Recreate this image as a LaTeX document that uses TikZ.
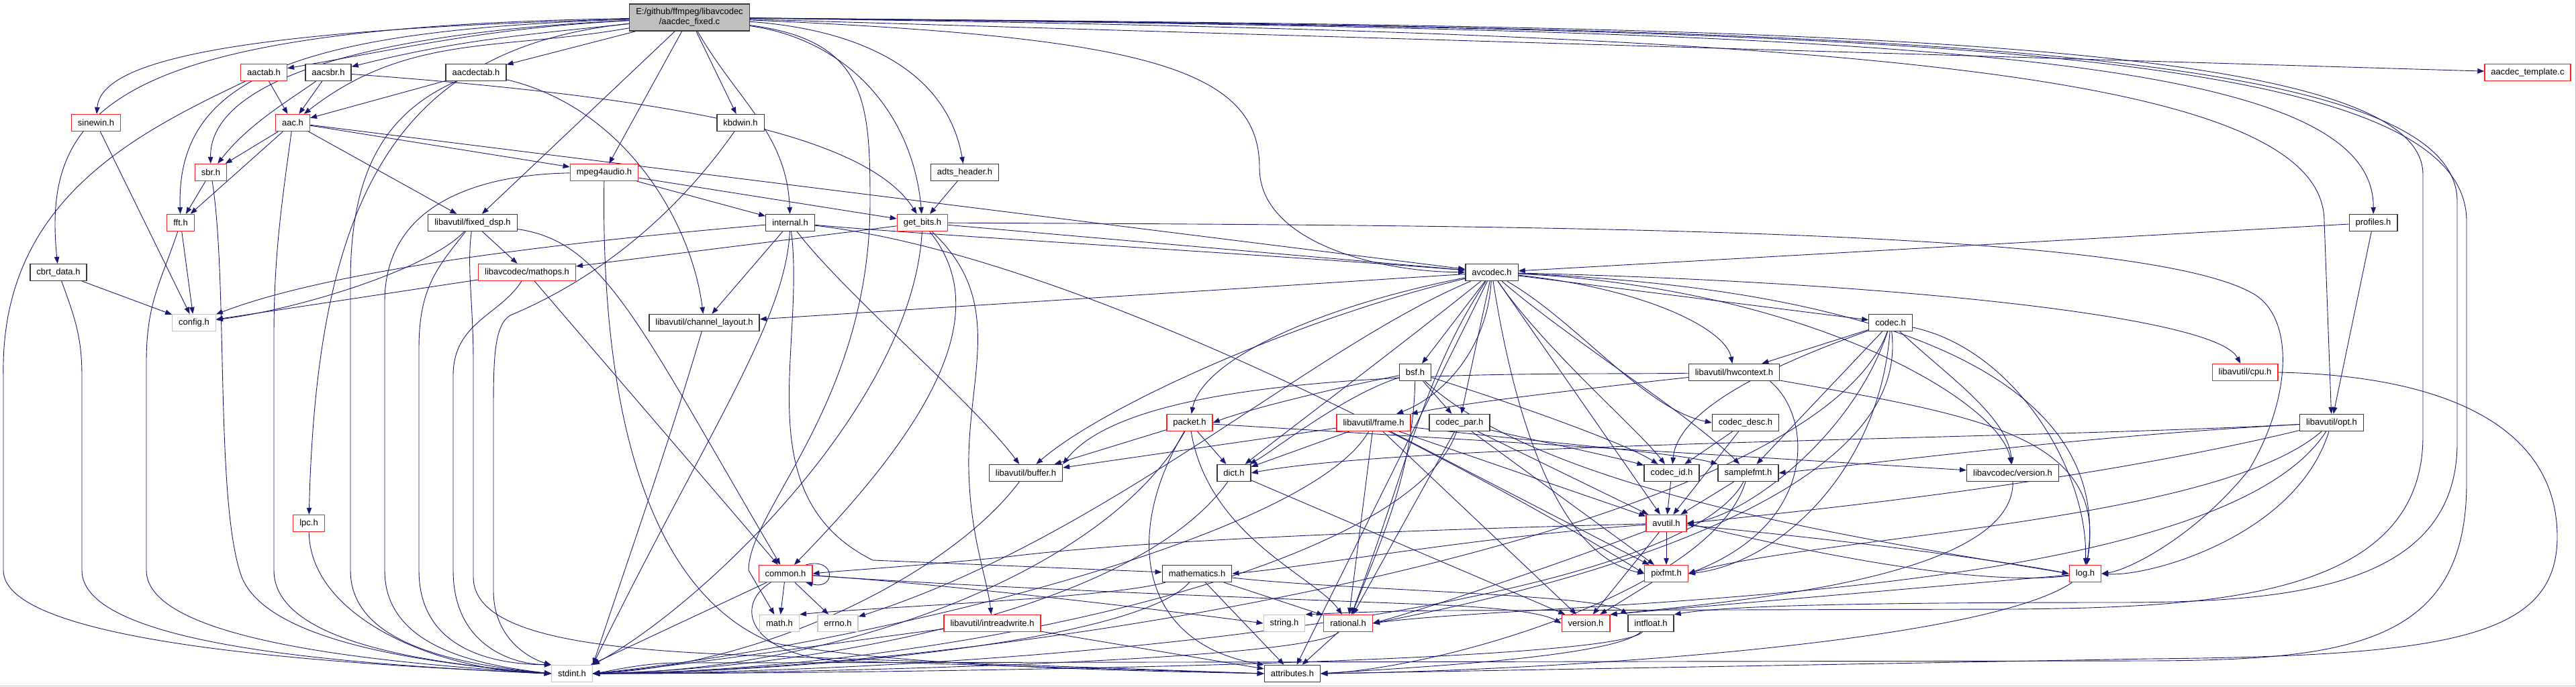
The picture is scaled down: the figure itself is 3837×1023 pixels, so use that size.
\documentclass[tikz,border=0pt]{standalone}
\usepackage{fontspec}
\setmainfont{Liberation Sans}
\usetikzlibrary{arrows.meta}
\pgfdeclarelayer{bg}
\pgfsetlayers{bg,main}
\definecolor{edgec}{HTML}{191970}
\definecolor{redb}{HTML}{FF2020}
\definecolor{grayb}{HTML}{C4C4C4}
\definecolor{blackb}{HTML}{383838}
\definecolor{rootf}{HTML}{BFBFBF}
\begin{document}
\begin{tikzpicture}[x=1pt,y=-1pt,
  nd/.style={draw=blackb, fill=white, line width=1.3pt, minimum height=25pt, inner xsep=9.5pt, inner ysep=0pt, font=\fontsize{13}{15}\selectfont},
  rd/.style={nd, draw=redb},
  gd/.style={nd, draw=grayb},
  e/.style={draw=edgec, line width=0.9pt, -{Triangle[length=10pt,width=7.5pt]}},
]
\useasboundingbox (0,0) rectangle (3837,1023);
\draw[grayb, line width=1pt] (0,1022) -- (3836,1022) -- (3836,0);

% ---------------- nodes ----------------
\node[nd, fill=rootf, align=center, minimum height=40pt] (R) at (1027,26) {E:/github/ffmpeg/libavcodec\\/aacdec\_fixed.c};
\node[rd] (aactab) at (393,108) {aactab.h};
\node[nd] (aacsbr) at (489,108) {aacsbr.h};
\node[nd] (aacdectab) at (709,108) {aacdectab.h};
\node[rd] (tmpl) at (3765,108) {aacdec\_template.c};
\node[rd] (sinewin) at (143,183) {sinewin.h};
\node[rd] (aac) at (436,183) {aac.h};
\node[nd] (kbdwin) at (1103,183) {kbdwin.h};
\node[rd] (sbr) at (314,257) {sbr.h};
\node[rd] (mpa) at (900,257) {mpeg4audio.h};
\node[nd] (adts) at (1437,257) {adts\_header.h};
\node[rd] (fft) at (269,332) {fft.h};
\node[nd] (fdsp) at (704,332) {libavutil/fixed\_dsp.h};
\node[nd] (intl) at (1177,332) {internal.h};
\node[rd] (getbits) at (1374,332) {get\_bits.h};
\node[nd] (profiles) at (3535,332) {profiles.h};
\node[nd] (cbrt) at (87,406) {cbrt\_data.h};
\node[rd] (mathops) at (785,406) {libavcodec/mathops.h};
\node[nd] (avcodec) at (2222,406) {avcodec.h};
\node[gd] (config) at (289,481) {config.h};
\node[nd] (chl) at (1049,481) {libavutil/channel\_layout.h};
\node[nd] (codec) at (2816,481) {codec.h};
\node[nd] (bsf) at (2108,555) {bsf.h};
\node[nd] (hwctx) at (2583,555) {libavutil/hwcontext.h};
\node[rd] (cpu) at (3344,555) {libavutil/cpu.h};
\node[rd] (packet) at (1772,630) {packet.h};
\node[rd] (frame) at (2046,630) {libavutil/frame.h};
\node[nd] (cpar) at (2174,630) {codec\_par.h};
\node[nd] (cdesc) at (2600,630) {codec\_desc.h};
\node[nd] (opt) at (3473,630) {libavutil/opt.h};
\node[nd] (buffer) at (1528,705) {libavutil/buffer.h};
\node[nd] (dict) at (1838,705) {dict.h};
\node[nd] (cid) at (2490,705) {codec\_id.h};
\node[nd] (sfmt) at (2604,705) {samplefmt.h};
\node[nd] (lavcver) at (2998,705) {libavcodec/version.h};
\node[rd] (lpc) at (460,780) {lpc.h};
\node[rd] (avutil) at (2482,780) {avutil.h};
\node[rd] (common) at (1170,855) {common.h};
\node[nd] (mathem) at (1783,855) {mathematics.h};
\node[rd] (pixfmt) at (2482,855) {pixfmt.h};
\node[rd] (logh) at (3106,855) {log.h};
\node[gd] (mathh) at (1161,929) {math.h};
\node[gd] (errno) at (1248,929) {errno.h};
\node[rd] (irw) at (1478,929) {libavutil/intreadwrite.h};
\node[gd] (stringh) at (1913,929) {string.h};
\node[rd] (rational) at (2008,929) {rational.h};
\node[rd] (version) at (2362,929) {version.h};
\node[nd] (intfloat) at (2459,929) {intfloat.h};
\node[gd] (stdint) at (852,1004) {stdint.h};
\node[nd] (attr) at (1925,1004) {attributes.h};

\begin{pgfonlayer}{bg}
% ---------------- root ----------------
\draw[e] (R) to[out=183,in=10] (aactab);
\draw[e] (R) to[out=186,in=14] (aacsbr);
\draw[e] (R) -- (aacdectab);
\draw[e] (R) .. controls (320,45) and (150,95) .. (sinewin);
\draw[e] (R) .. controls (170,40) and (62,160) .. (cbrt);
\draw[e] (R) .. controls (440,45) and (262,115) .. (fft);
\draw[e] (R) .. controls (490,52) and (312,135) .. (sbr);
\draw[e] (R) to[out=190,in=38] (aac);
\draw[e] (R) .. controls (600,70) and (472,280) .. (lpc);
\draw[e] (R) -- (kbdwin);
\draw[e] (R) -- (mpa);
\draw[e] (R) -- (fdsp);
\draw[e] (R) to[out=-60,in=92] (intl);
\draw[e] (R) to[out=-8,in=95] (getbits);
\draw[e] (R) to[out=-4,in=100] (adts);
\draw[e] (R) .. controls (1290,60) and (1296,150) .. (1296,300) .. controls (1296,600) and (1115,760) .. (1115,850) -- (mathh);
\draw[e] (R) .. controls (1700,55) and (1876,100) .. (1876,250) .. controls (1876,360) and (2050,405) .. (avcodec);
\draw[e] (R) -- (tmpl);
\draw[e] (R) .. controls (2800,45) and (3537,70) .. (profiles);
\draw[e] (R) .. controls (2700,48) and (3462,100) .. (3462,330) -- (opt);
\draw[e] (R) .. controls (2600,40) and (3609,45) .. (3609,260) -- (3609,650) .. controls (3609,890) and (3300,905) .. (3000,908) -- (2150,910) .. controls (2050,911) and (1990,914) .. (stringh.north east);
\draw[e] (R) .. controls (2650,42) and (3660,50) .. (3660,300) -- (3660,660) .. controls (3660,880) and (3400,898) .. (3150,898) .. controls (2700,898) and (2560,905) .. (intfloat.north east);
\draw[e] (R) .. controls (2750,44) and (3674,55) .. (3674,330) -- (3674,720) .. controls (3674,960) and (3500,984) .. (3200,985) -- (1000,988) .. controls (950,990) and (910,1000) .. (stdint.east);

% ---------------- upper left ----------------
\draw[e] (aactab) -- (aac);
\draw[e] (aactab) .. controls (200,200) and (0,300) .. (5,560) -- (5,850) .. controls (5,960) and (500,990) .. (stdint.west);
\draw[e] (aacsbr) -- (aac);
\draw[e] (aacsbr) .. controls (430,150) and (370,185) .. (sbr);
\draw[e] (aacsbr) .. controls (1000,145) and (1290,200) .. (getbits);
\draw[e] (aacdectab) -- (aac);
\draw[e] (aacdectab) .. controls (930,160) and (1030,330) .. (chl);
\draw[e] (aacdectab) .. controls (570,170) and (522,260) .. (522,420) -- (522,850) .. controls (522,960) and (680,990) .. (stdint.west);
\draw[e] (sinewin) -- (config);
\draw[e] (aac) -- (sbr);
\draw[e] (aac) -- (fft);
\draw[e] (aac) -- (mpa);
\draw[e] (aac) -- (avcodec);
\draw[e] (aac) -- (fdsp);
\draw[e] (aac) .. controls (420,300) and (408,380) .. (408,500) -- (408,850) .. controls (408,960) and (650,990) .. (stdint.west);
\draw[e] (kbdwin) .. controls (1000,330) and (880,420) .. (760,470) .. controls (735,485) and (735,540) .. (735,620) -- (735,880) .. controls (735,960) and (800,985) .. (stdint.north west);
\draw[e] (sbr) -- (fft);
\draw[e] (sbr) .. controls (340,420) and (320,750) .. (360,860) .. controls (400,960) and (650,990) .. (stdint.west);
\draw[e] (mpa) -- (intl);
\draw[e] (mpa) -- (getbits);
\draw[e] (mpa) .. controls (720,260) and (573,300) .. (573,450) -- (573,850) .. controls (573,960) and (700,990) .. (stdint.west);
\draw[e] (mpa) .. controls (895,600) and (960,880) .. (1150,958) .. controls (1350,995) and (1700,1000) .. (attr.west);
\draw[e] (adts) -- (getbits);
\draw[e] (fft) -- (config);
\draw[e] (fft) .. controls (240,420) and (218,450) .. (218,540) -- (218,850) .. controls (218,960) and (600,990) .. (stdint.west);
\draw[e] (fdsp) -- (mathops);
\draw[e] (fdsp) .. controls (640,400) and (450,460) .. (config);
\draw[e] (fdsp) .. controls (650,400) and (624,430) .. (624,520) -- (624,850) .. controls (624,960) and (720,990) .. (stdint.north west);
\draw[e] (fdsp) .. controls (695,400) and (705,450) .. (705,540) -- (705,860) .. controls (705,950) and (900,970) .. (1150,978) -- (attr.west);
\draw[e] (fdsp) .. controls (900,360) and (950,480) .. (common);
\draw[e] (cbrt) -- (config);
\draw[e] (cbrt) .. controls (110,470) and (122,500) .. (122,560) -- (122,850) .. controls (122,960) and (500,990) .. (stdint.west);
\draw[e] (mathops) -- (config);
\draw[e] (mathops) -- (common);
\draw[e] (mathops) .. controls (745,470) and (675,480) .. (675,560) -- (675,850) .. controls (675,960) and (760,990) .. (stdint.north west);
\draw[e] (lpc) .. controls (462,920) and (650,1000) .. (stdint.west);
\draw[e] (chl) .. controls (1000,650) and (930,850) .. (stdint.north east);

% ---------------- internal / get_bits ----------------
\draw[e] (intl) .. controls (850,360) and (500,400) .. (config);
\draw[e] (intl) -- (chl);
\draw[e] (intl) .. controls (1400,352) and (1900,380) .. (avcodec);
\draw[e] (intl) .. controls (1170,480) and (1050,650) .. (stdint.north east);
\draw[e] (intl) .. controls (1200,520) and (1110,740) .. (1300,835) -- (mathem);
\draw[e] (intl) .. controls (1260,440) and (1450,600) .. (buffer);
\draw[e] (intl) .. controls (1600,380) and (2200,700) .. (pixfmt.west);
\draw[e] (getbits) -- (mathops);
\draw[e] (getbits) -- (avcodec);
\draw[e] (getbits) .. controls (2300,336) and (3200,340) .. (3360,440) .. controls (3420,480) and (3410,600) .. (3350,700) .. controls (3270,800) and (3170,850) .. (logh.east);
\draw[e] (getbits) .. controls (1360,600) and (1050,900) .. (stdint.north east);
\draw[e] (getbits) .. controls (1470,450) and (1420,600) .. (common);
\draw[e] (getbits) .. controls (1500,450) and (1440,560) .. (1443,700) .. controls (1445,800) and (1470,860) .. (irw);
\draw[e] (profiles) -- (opt);
\draw[e] (profiles) -- (avcodec);

% ---------------- avcodec.h ----------------
\draw[e] (avcodec) .. controls (1950,520) and (1650,800) .. (errno);
\draw[e] (avcodec) .. controls (2330,500) and (2520,620) .. (sfmt);
\draw[e] (avcodec) -- (attr);
\draw[e] (avcodec) -- (avutil);
\draw[e] (avcodec) .. controls (1950,470) and (1650,600) .. (buffer);
\draw[e] (avcodec) .. controls (2800,420) and (3300,470) .. (cpu);
\draw[e] (avcodec) -- (chl);
\draw[e] (avcodec) .. controls (2080,520) and (1920,640) .. (dict);
\draw[e] (avcodec) .. controls (2215,520) and (2150,590) .. (frame);
\draw[e] (avcodec) .. controls (2450,430) and (2570,490) .. (hwctx);
\draw[e] (avcodec) .. controls (2800,430) and (3150,560) .. (logh);
\draw[e] (avcodec) .. controls (2260,650) and (2330,830) .. (pixfmt.west);
\draw[e] (avcodec) .. controls (2120,560) and (2095,700) .. (rational);
\draw[e] (avcodec) -- (bsf);
\draw[e] (avcodec) -- (codec);
\draw[e] (avcodec) .. controls (2350,480) and (2450,610) .. (cdesc.west);
\draw[e] (avcodec) -- (cpar);
\draw[e] (avcodec) .. controls (2300,520) and (2440,640) .. (cid);
\draw[e] (avcodec) .. controls (1950,460) and (1790,540) .. (packet);
\draw[e] (avcodec) .. controls (2700,430) and (2980,600) .. (lavcver);

% ---------------- codec.h, bsf.h, hwcontext.h, cpu.h ----------------
\draw[e] (codec) .. controls (2700,800) and (1500,1000) .. (stdint.east);
\draw[e] (codec) .. controls (2760,650) and (2600,770) .. (avutil.east);
\draw[e] (codec) -- (hwctx);
\draw[e] (codec) .. controls (3000,520) and (3110,700) .. (logh);
\draw[e] (codec) .. controls (2800,700) and (2650,840) .. (pixfmt.east);
\draw[e] (codec) .. controls (2850,750) and (2300,880) .. (rational.east);
\draw[e] (codec) -- (sfmt);
\draw[e] (codec) .. controls (2680,530) and (2500,600) .. (cid);
\draw[e] (codec) .. controls (2900,560) and (2990,620) .. (lavcver);
\draw[e] (bsf) .. controls (2000,590) and (1900,670) .. (dict);
\draw[e] (bsf) .. controls (2300,730) and (2750,800) .. (logh.west);
\draw[e] (bsf) .. controls (2105,700) and (2060,800) .. (rational);
\draw[e] (bsf) .. controls (2250,600) and (2420,660) .. (cid);
\draw[e] (bsf) -- (cpar);
\draw[e] (bsf) .. controls (1980,580) and (1860,610) .. (packet.east);
\draw[e] (hwctx) .. controls (2300,560) and (1700,540) .. (buffer.north east);
\draw[e] (hwctx) .. controls (2400,575) and (2180,600) .. (frame.north east);
\draw[e] (hwctx) .. controls (2950,620) and (3140,650) .. (logh);
\draw[e] ([xshift=-15pt]hwctx.south east) .. controls (2700,620) and (2710,780) .. (pixfmt.east);
\draw[e] (cpu.east) .. controls (3650,560) and (3809,640) .. (3809,800) .. controls (3809,950) and (3650,978) .. (3200,982) -- (attr.east);

% ---------------- packet, frame, codec_par, codec_desc, opt ----------------
\draw[e] (packet) .. controls (1650,850) and (1250,1000) .. (stdint.east);
\draw[e] (packet) .. controls (1670,800) and (1700,960) .. (attr.north west);
\draw[e] (packet) -- (buffer);
\draw[e] (packet) -- (dict);
\draw[e] (packet) .. controls (1800,800) and (1960,860) .. (rational);
\draw[e] (packet) -- (lavcver);
\draw[e] (frame) .. controls (1950,800) and (1300,960) .. (stdint.east);
\draw[e] (frame) -- (avutil);
\draw[e] (frame) -- (buffer);
\draw[e] (frame) -- (dict);
\draw[e] (frame) -- (rational);
\draw[e] (frame) .. controls (2300,660) and (2500,675) .. (sfmt.north west);
\draw[e] (frame) -- (pixfmt);
\draw[e] (frame) -- (version);
\draw[e] (cpar) .. controls (2100,850) and (1400,1000) .. (stdint.east);
\draw[e] (cpar) -- (avutil);
\draw[e] (cpar) -- (rational);
\draw[e] (cpar) -- (pixfmt);
\draw[e] (cpar) .. controls (2280,655) and (2400,680) .. (cid);
\draw[e] (cdesc) -- (avutil);
\draw[e] (cdesc) -- (cid);
\draw[e] (opt) .. controls (3300,900) and (2300,895) .. (rational.east);
\draw[e] (opt) .. controls (3100,720) and (2700,760) .. (avutil.east);
\draw[e] (opt) .. controls (3000,655) and (2100,660) .. (dict.east);
\draw[e] (opt) .. controls (3420,800) and (3200,860) .. (logh.east);
\draw[e] (opt) .. controls (3300,780) and (2700,800) .. (pixfmt.east);
\draw[e] (opt) .. controls (3100,650) and (2800,690) .. (sfmt.east);

% ---------------- row 10 ----------------
\draw[e] (buffer) .. controls (1420,850) and (1150,990) .. (stdint.east);
\draw[e] (dict) .. controls (1700,900) and (1250,995) .. (stdint.east);
\draw[e] (dict) -- (version);
\draw[e] (cid) -- (avutil);
\draw[e] (sfmt) .. controls (2500,900) and (1600,1000) .. (stdint.east);
\draw[e] (sfmt) -- (avutil);
\draw[e] (sfmt) .. controls (2550,880) and (2150,995) .. (attr.east);
\draw[e] (lavcver) .. controls (3000,860) and (2600,895) .. (version.north east);

% ---------------- avutil, log ----------------
\draw[e] (avutil) .. controls (2100,790) and (1700,805) .. (1500,830) .. controls (1350,845) and (1260,850) .. (common.east);
\draw[e] (avutil) .. controls (2350,830) and (2150,900) .. (rational.east);
\draw[e] (avutil) -- (version);
\draw[e] (avutil) .. controls (2200,800) and (1950,845) .. (mathem.east);
\draw[e] (avutil) .. controls (2700,800) and (2950,830) .. (logh.west);
\draw[e] (avutil) -- (pixfmt);
\draw[e] (logh) .. controls (2950,875) and (2700,825) .. (avutil.east);
\draw[e] (logh) .. controls (2950,960) and (2300,1000) .. (attr.east);
\draw[e] (logh) -- (version.north east);

% ---------------- common, mathematics ----------------
\draw[e] (common) -- (errno);
\draw[e] (common) -- (mathh);
\draw[e] (common) -- (stdint);
\draw[e] (common) .. controls (1400,870) and (1700,905) .. (stringh.west);
\draw[e] (common) .. controls (1095,900) and (1110,975) .. (1250,985) -- (attr.west);
\draw[e] (common) .. controls (1500,878) and (1900,892) .. (2100,900) .. controls (2250,905) and (2300,915) .. (version.west);
\draw[e] ([xshift=-10pt]common.north east) .. controls +(45,-12) and +(45,12) .. ([xshift=-10pt]common.south east);
\draw[e] (mathem) .. controls (1700,950) and (1250,1000) .. (stdint.east);
\draw[e] (mathem) .. controls (1650,892) and (1300,905) .. (mathh.north east);
\draw[e] (mathem) -- (attr);
\draw[e] (mathem) -- (rational);
\draw[e] (mathem) .. controls (2000,880) and (2380,885) .. (intfloat.north west);
\draw[e] (pixfmt) -- (version);

% ---------------- bottom row sources ----------------
\draw[e] (irw) .. controls (1300,950) and (1000,995) .. (stdint.east);
\draw[e] (irw) -- (attr);
\draw[e] (rational) .. controls (1950,985) and (1200,1004) .. (stdint.east);
\draw[e] (rational) -- (attr);
\draw[e] (intfloat) .. controls (2400,990) and (1300,1004) .. (stdint.east);
\draw[e] (intfloat) .. controls (2400,980) and (2100,995) .. (attr.east);
\end{pgfonlayer}
\end{tikzpicture}
\end{document}
